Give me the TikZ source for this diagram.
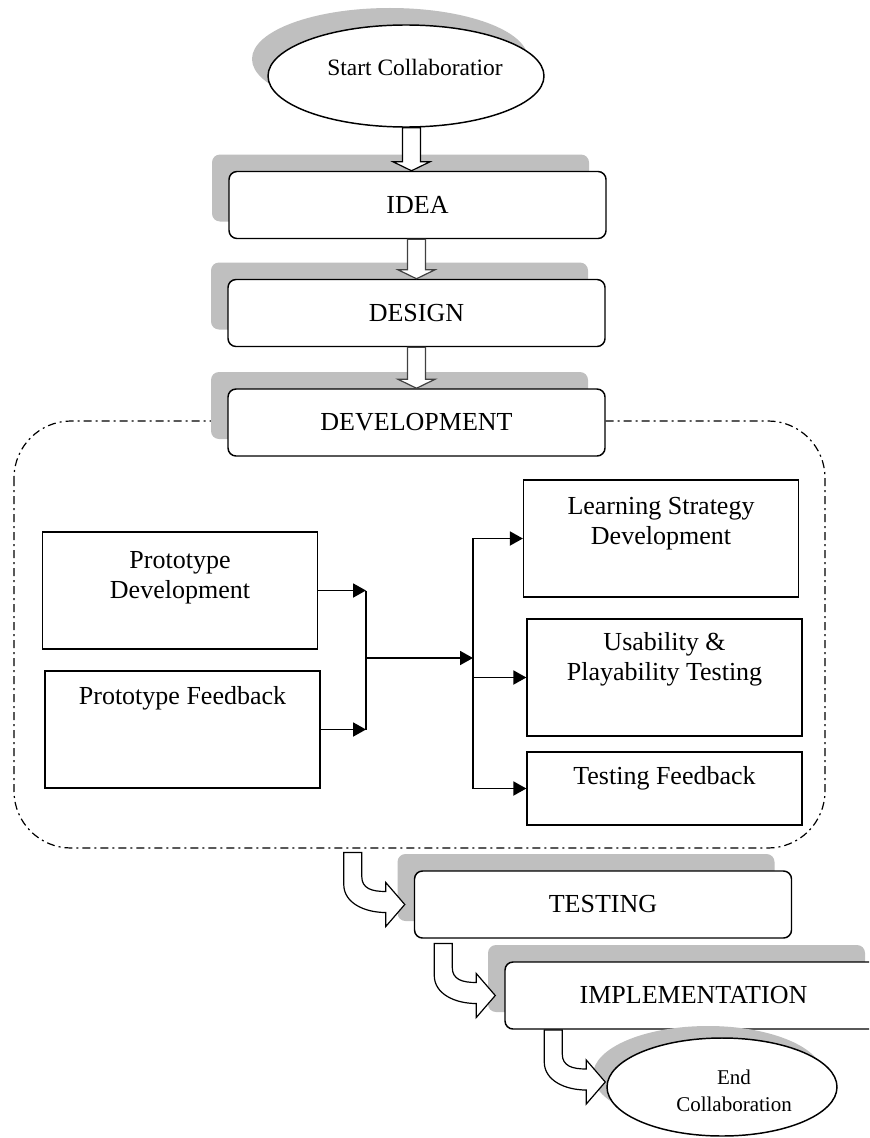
\documentclass[tikz,border=0pt]{standalone}
\usepackage{fontspec}
\setmainfont{Liberation Serif}
\usetikzlibrary{shapes.geometric,shadows,arrows.meta,calc}
\definecolor{shadowgray}{RGB}{191,191,191}

\tikzset{every picture/.style={line width=0.75pt}}
\tikzset{
  stagebox/.style={draw, fill=white, rounded corners=6pt, line width=1.1pt,
    minimum width=282.75pt, minimum height=50.25pt, inner sep=0pt,
    font=\fontsize{19.5}{22.5}\selectfont,
    drop shadow={shadow xshift=-12.75pt, shadow yshift=12.75pt, fill=shadowgray, opacity=1}},
  endpoint/.style={ellipse, draw, fill=white, line width=1.1pt, inner sep=0pt},
  subbox/.style={draw, line width=1.2pt, minimum width=206pt, minimum height=87.75pt, inner sep=0pt},
  subtext/.style={anchor=north, align=center, inner xsep=0pt, inner ysep=#1,
    font=\fontsize{19.5}{22.5}\selectfont},
  flowline/.style={line width=1.4pt},
  flowarrow/.style={flowline, -{Triangle[length=9.75pt,width=10.5pt]}},
  blockarr/.style={fill=white, line width=0.9pt, line join=miter},
  devzone/.style={line width=0.9pt, rounded corners=42.75pt,
    dash pattern=on 6pt off 3pt on 1.5pt off 3pt},
  bentarrow/.pic={
    \draw[blockarr] (-61,52) -- (-43,52) -- (-43,28)
      .. controls (-43,16) and (-33,13) .. (-19,13) -- (-19,22) -- (0,0)
      -- (-19,-22) -- (-19,-8) .. controls (-41,-8) and (-61,2) .. (-61,20) -- cycle;
  }
}

% hollow down arrow: from #2 to the tip #3
\newcommand{\blockdown}[3][black]{%
  \draw[blockarr, draw=#1] ($(#2 -| #3)+(-9,0)$) -- ($(#3)+(-9,-9)$) -- ($(#3)+(-18.5,-9)$)
    -- (#3) -- ($(#3)+(18.5,-9)$) -- ($(#3)+(9,-9)$) -- ($(#2 -| #3)+(9,0)$) -- cycle;}

\begin{document}
\begin{tikzpicture}[x=0.75pt,y=0.75pt,yscale=-1,xscale=1]
\useasboundingbox (0,0) rectangle (869,1138);
\clip (0,0) rectangle (869,1138);

%Shape: Development area
\draw[devzone] (14,421) rectangle (825,848);

%Shape: Ellipse
\node[endpoint, minimum width=207pt, minimum height=76.5pt,
  drop shadow={shadow xshift=-12pt, shadow yshift=12.75pt, fill=shadowgray, opacity=1}] (start) at (406,76) {};
% Text Node
\node[font=\fontsize{17.6}{20}\selectfont] (startlbl) at (415,67) {Start Collaboratior};

%Shape: Rounded Rect
\node[stagebox] (idea) at (417.5,205) {IDEA};
\node[stagebox] (design) at (416.5,313) {DESIGN};
\node[stagebox] (devel) at (416.5,422.5) {DEVELOPMENT};

%Shape: Rect
\node[subbox, label={[subtext=14.5pt]north:{Prototype\\Development}}] (protodev) at (180,590.5) {};
\node[subbox, label={[subtext=12pt]north:{Prototype Feedback}}] (protofb) at (182.5,729.5) {};
\node[subbox, label={[subtext=13.5pt]north:{Learning Strategy\\Development}}] (learn) at (661,538.5) {};
\node[subbox, label={[subtext=10.5pt]north:{Usability \&\\Playability Testing}}] (usab) at (664.5,677.5) {};
\node[subbox, minimum height=54.75pt, label={[subtext=11.3pt]north:{Testing Feedback}}] (testfb) at (664.5,788.5) {};

%Shape: Rounded Rect
\node[stagebox] (testing) at (603,904.5) {TESTING};
\node[stagebox] (impl) at (693.5,995.5) {IMPLEMENTATION};

%Shape: Ellipse
\node[endpoint, minimum width=172.5pt, minimum height=73.5pt,
  drop shadow={shadow xshift=-10.5pt, shadow yshift=9pt, fill=shadowgray, opacity=1}] (finish) at (722,1087) {};
% Text Node
\node[align=center, font=\fontsize{15.75}{20}\selectfont] (finishlbl) at (734,1091) {End\\Collaboration};

%Block Arrows
\coordinate (ideain) at ($(idea.north)+(-6,0)$);
\blockdown{start.south}{ideain}
\blockdown[darkgray]{idea.south}{design.north}
\blockdown[darkgray]{design.south}{devel.north}

\pic at ($(testing.west)+(-9,0)$) {bentarrow};
\pic at ($(impl.west)+(-9,0)$) {bentarrow};
\pic at ($(finish.west)+(-1,-5)$) {bentarrow};

%Straight Lines
\coordinate (merge) at (366,658);
\coordinate (split) at (473,658);
\draw[flowarrow] (protodev.east) -- (protodev.east -| merge);
\draw[flowarrow] (protofb.east) -- (protofb.east -| merge);
\draw[flowline] (protodev.east -| merge) -- (protofb.east -| merge);
\draw[flowarrow] (merge) -- (split);
\draw[flowarrow] (split) |- (learn.west);
\draw[flowarrow] (split) |- (usab.west);
\draw[flowarrow] (split) |- (testfb.west);

\end{tikzpicture}
\end{document}
